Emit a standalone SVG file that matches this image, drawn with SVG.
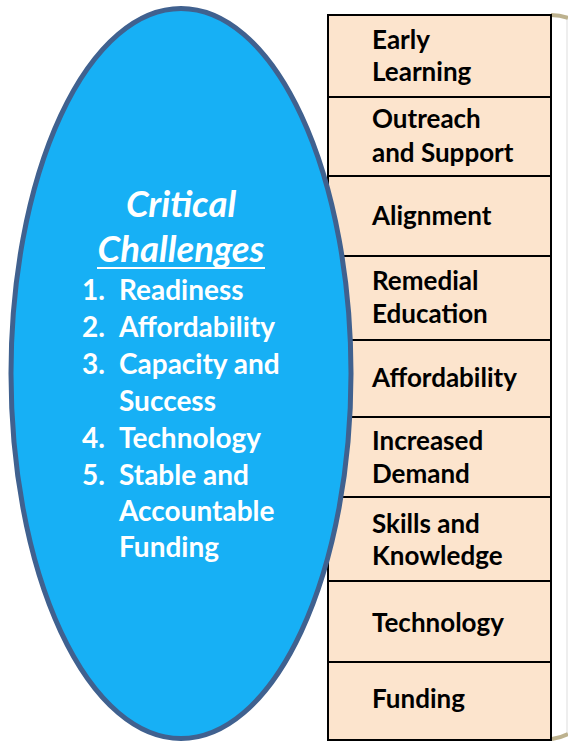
<svg xmlns="http://www.w3.org/2000/svg" width="568" height="743" viewBox="0 0 568 743">
<style>
.cell{fill:#fce4cd;stroke:#000;stroke-width:2}
.rt{font-family:Lato,"Open Sans",sans-serif;font-weight:bold;font-size:26px;fill:#000}
.lt{font-family:Lato,"Open Sans",sans-serif;font-weight:bold;font-size:28px;fill:#fff}
.tt{font-family:Lato,"Open Sans",sans-serif;font-weight:bold;font-style:italic;font-size:36.5px;fill:#fff}
.tan{fill:none;stroke:#bdb28f;stroke-width:4}
</style>
<rect width="568" height="743" fill="#fff"/>
<line x1="567" y1="18" x2="567" y2="736" stroke="#e8e8e8" stroke-width="1.5"/>
<path class="tan" d="M551 15 Q560 15 568 18"/>
<path class="tan" d="M552 739 Q560 738 568 734"/>
<g id="table">
<g id="row1"><rect class="cell" x="328" y="15" width="223" height="82"/><text class="rt" x="372" y="49">Early</text><text class="rt" x="372" y="81">Learning</text></g>
<g id="row2"><rect class="cell" x="328" y="97" width="223" height="79"/><text class="rt" x="372" y="128">Outreach</text><text class="rt" x="372" y="162">and Support</text></g>
<g id="row3"><rect class="cell" x="328" y="176" width="223" height="80"/><text class="rt" x="372" y="225">Alignment</text></g>
<g id="row4"><rect class="cell" x="328" y="256" width="223" height="84"/><text class="rt" x="372" y="290">Remedial</text><text class="rt" x="372" y="323">Education</text></g>
<g id="row5"><rect class="cell" x="328" y="340" width="223" height="77"/><text class="rt" x="372" y="387">Affordability</text></g>
<g id="row6"><rect class="cell" x="328" y="417" width="223" height="80"/><text class="rt" x="372" y="450">Increased</text><text class="rt" x="372" y="483">Demand</text></g>
<g id="row7"><rect class="cell" x="328" y="497" width="223" height="84"/><text class="rt" x="372" y="533">Skills and</text><text class="rt" x="372" y="565">Knowledge</text></g>
<g id="row8"><rect class="cell" x="328" y="581" width="223" height="81"/><text class="rt" x="372" y="632">Technology</text></g>
<g id="row9"><rect class="cell" x="328" y="662" width="223" height="78"/><text class="rt" x="372" y="708">Funding</text></g>
</g>
<g id="challenges">
<ellipse cx="181" cy="373.5" rx="170" ry="365" fill="#17b0f5" stroke="#40618f" stroke-width="5"/>
<text class="tt" x="181" y="217" text-anchor="middle">Critical</text>
<text class="tt" x="181" y="262" text-anchor="middle">Challenges</text>
<line x1="97" y1="268" x2="265" y2="268" stroke="#fff" stroke-width="2"/>
<text class="lt" x="82" y="300">1.</text><text class="lt" x="119" y="300">Readiness</text>
<text class="lt" x="82" y="337">2.</text><text class="lt" x="119" y="337">Affordability</text>
<text class="lt" x="82" y="374">3.</text><text class="lt" x="119" y="374">Capacity and</text>
<text class="lt" x="119" y="411">Success</text>
<text class="lt" x="82" y="448">4.</text><text class="lt" x="119" y="448">Technology</text>
<text class="lt" x="82" y="485">5.</text><text class="lt" x="119" y="485">Stable and</text>
<text class="lt" x="119" y="521">Accountable</text>
<text class="lt" x="119" y="557">Funding</text>
</g>
</svg>
